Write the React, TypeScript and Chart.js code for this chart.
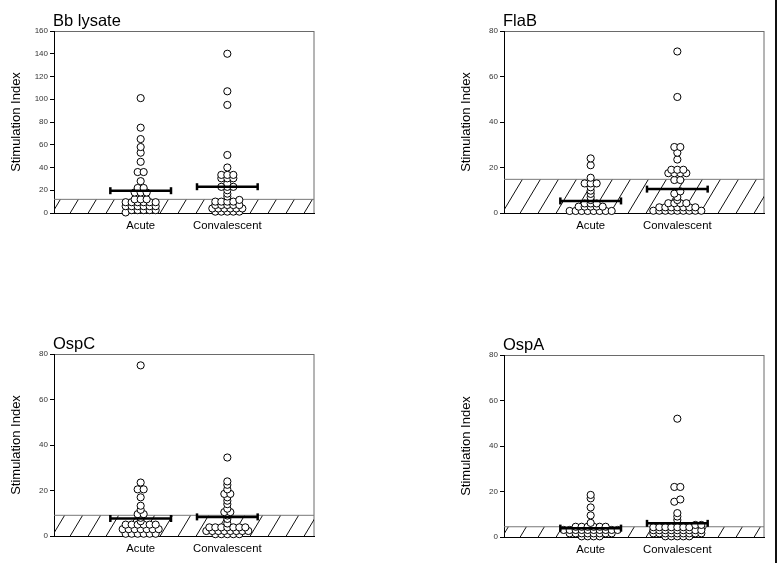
import React, { useEffect, useRef } from "react";
import { Chart, registerables } from "chart.js";

Chart.register(...registerables);

// ---------- data ----------
const categories = ["Acute", "Convalescent"];
const panelTitles = ["Bb lysate", "FlaB", "OspC", "OspA"];
const yMaxes = [160, 80, 80, 80];
const yStepSizes = [20, 20, 20, 20];
const cutoffs = [12, 14.8, 9.1, 4.5];
const acuteMeans = [19.6, 5.3, 7.7, 3.9];
const convMeans = [23.1, 10.5, 8.4, 6.0];

const bbAcute = [101, 75, 65, 58, 53, 45, 36, 36, 28, 22, 22, 18, 18, 18, 12, 12, 12,
  9.5, 9.5, 9.5, 9.5, 9.5, 9.5, 6, 6, 6, 6, 6, 6, 2.5, 2.5, 2.5, 2.5, 2.5, 0.5];
const bbConv = [140, 107, 95, 51, 40, 33.5, 33.5, 33.5, 30.5, 30.5, 30.5, 26, 23, 23, 23, 20, 17,
  14.5, 11.5, 10, 10, 10, 10, 7, 7, 7, 7, 7, 4, 4, 4, 4, 4, 4, 1.2, 1.2, 1.2, 1.2, 1.2];

const flabAcute = [24, 21, 15.5, 13, 13, 13, 11.3, 9.8, 8.4, 6.9, 5.7, 4.2, 4.2, 4.2,
  2.8, 2.8, 2.8, 2.8, 2.8, 0.9, 0.9, 0.9, 0.9, 0.9, 0.9, 0.9, 0.9];
const flabConv = [71, 51, 29, 29, 26.5, 23.5, 19, 19, 19, 17.5, 17.5, 17.5, 17.5, 14.5, 14.5,
  9.5, 8.5, 7, 5.7, 4.3, 4.3, 4.3, 4.3, 2.5, 2.5, 2.5, 2.5, 2.5, 2.5, 2.5,
  1, 1, 1, 1, 1, 1, 1, 1, 1];

const ospcAcute = [75, 23.5, 20.5, 20.5, 17, 13.3, 11.5, 9.6, 9.6, 8, 6.5, 5, 5, 5, 5, 5, 5,
  3, 3, 3, 3, 3, 3, 3, 1, 1, 1, 1, 1, 1];
const ospcConv = [34.5, 24, 22.5, 20.5, 18.5, 18.5, 17, 15.5, 14, 12, 10.5, 10.5, 9, 7.5, 5.5,
  3.8, 3.8, 3.8, 3.8, 3.8, 3.8, 3.8, 2.2, 2.2, 2.2, 2.2, 2.2, 2.2, 2.2, 2.2,
  0.8, 0.8, 0.8, 0.8, 0.8];

const ospaAcute = [18.5, 17, 13, 9.5, 6.2, 4.5, 4.5, 4.5, 4.5, 4.5, 4.5,
  3.1, 3.1, 3.1, 3.1, 3.1, 3.1, 3.1, 3.1, 3.1, 3.1, 1.6, 1.6, 1.6, 1.6, 1.6, 1.6, 1.6, 1.6,
  0.3, 0.3, 0.3, 0.3];
const ospaConv = [52, 22, 22, 16.5, 15.5, 10.5, 9, 7.5, 5.3, 5.3, 4.3, 4.3, 4.3, 4.3, 4.3, 4.3, 4.3,
  3, 3, 3, 3, 3, 3, 3, 3, 3, 1.6, 1.6, 1.6, 1.6, 1.6, 1.6, 1.6, 1.6, 1.6,
  0.3, 0.3, 0.3, 0.3, 0.3];

const acuteSeries = [bbAcute, flabAcute, ospcAcute, ospaAcute];
const convSeries = [bbConv, flabConv, ospcConv, ospaConv];

// ---------- layout / style ----------
const FONT = '"Liberation Sans", Arial, Helvetica, sans-serif';
const CANVAS_W = 327;
const CANVAS_H = 239;
const PLOT_W = 260;
const PLOT_H = 182;
const X_MAX = 3;
const DOT_SPACING = 6; // px between dots in one row
const ROW_TOL = 2.5; // px: values closer than this share a row
const MEAN_HALF = 0.35;
const panelPos = [
  { left: 0, top: 0 },
  { left: 450, top: 0 },
  { left: 0, top: 323 },
  { left: 450, top: 324 },
];

function swarm(values: number[], center: number, yMax: number) {
  const pxX = PLOT_W / X_MAX;
  const pxY = PLOT_H / yMax;
  const sorted = [...values].sort((a, b) => a - b);
  const rows: number[][] = [];
  let start = -Infinity;
  for (const v of sorted) {
    const py = v * pxY;
    if (rows.length && py - start < ROW_TOL) rows[rows.length - 1].push(v);
    else {
      rows.push([v]);
      start = py;
    }
  }
  const pts: { x: number; y: number }[] = [];
  for (const row of rows) {
    const n = row.length;
    row.forEach((v, i) => {
      pts.push({ x: center + ((i - (n - 1) / 2) * DOT_SPACING) / pxX, y: v });
    });
  }
  return pts;
}

function makeHatch(ctx: CanvasRenderingContext2D) {
  const w = 18;
  const h = 30;
  const c = document.createElement("canvas");
  c.width = w;
  c.height = h;
  const g = c.getContext("2d")!;
  g.strokeStyle = "#111";
  g.lineWidth = 1;
  for (const dx of [-w, 0, w]) {
    g.beginPath();
    g.moveTo(-w + dx, 2 * h);
    g.lineTo(2 * w + dx, -h);
    g.stroke();
  }
  return ctx.createPattern(c, "repeat");
}

function Panel({ idx }: { idx: number }) {
  const ref = useRef<HTMLCanvasElement>(null);
  useEffect(() => {
    const canvas = ref.current!;
    const ctx = canvas.getContext("2d")!;
    const pattern = makeHatch(ctx);
    const yMax = yMaxes[idx];

    const framePlugin = {
      id: "panelFrame",
      beforeDraw(chart: any) {
        const { ctx: c, chartArea: a } = chart;
        c.save();
        c.strokeStyle = "#6a6a6a";
        c.lineWidth = 1;
        c.strokeRect(a.left + 0.5, a.top + 0.5, a.right - a.left - 0.5, a.bottom - a.top);
        c.restore();
      },
      afterDraw(chart: any) {
        const { ctx: c, chartArea: a } = chart;
        c.save();
        c.fillStyle = "#000";
        c.font = `16.5px ${FONT}`;
        c.textAlign = "left";
        c.textBaseline = "alphabetic";
        c.fillText(panelTitles[idx], a.left - 1, a.top - 5);
        c.restore();
      },
    };

    const meanDs = (center: number, m: number) => ({
      type: "line" as const,
      data: [
        { x: center - MEAN_HALF, y: m },
        { x: center + MEAN_HALF, y: m },
      ],
      borderColor: "#000",
      borderWidth: 2.5,
      pointStyle: "line" as const,
      pointRotation: 90,
      pointRadius: 3.5,
      pointBorderWidth: 2.5,
      pointBorderColor: "#000",
      order: 0,
      clip: false as any,
    });

    const dotDs = (vals: number[], center: number) => ({
      type: "scatter" as const,
      data: swarm(vals, center, yMax),
      pointRadius: 3.6,
      backgroundColor: "#fff",
      borderColor: "#000",
      borderWidth: 1,
      pointBackgroundColor: "#fff",
      pointBorderColor: "#000",
      pointBorderWidth: 1,
      order: 2,
      clip: false as any,
    });

    const chart = new Chart(canvas, {
      type: "scatter",
      data: {
        datasets: [
          {
            type: "line",
            data: [
              { x: 0, y: cutoffs[idx] },
              { x: X_MAX, y: cutoffs[idx] },
            ],
            borderColor: "#777",
            borderWidth: 1,
            pointRadius: 0,
            fill: "origin",
            backgroundColor: pattern as any,
            order: 5,
          },
          dotDs(acuteSeries[idx], 1),
          dotDs(convSeries[idx], 2),
          meanDs(1, acuteMeans[idx]),
          meanDs(2, convMeans[idx]),
        ] as any,
      },
      options: {
        responsive: false,
        animation: false,
        devicePixelRatio: 1,
        layout: { padding: { top: 31, right: 13, bottom: 0, left: 0 } },
        plugins: {
          legend: { display: false },
          tooltip: { enabled: false },
          title: { display: false },
        },
        scales: {
          x: {
            type: "linear",
            min: 0,
            max: X_MAX,
            afterBuildTicks: (s: any) => {
              s.ticks = [{ value: 1 }, { value: 2 }];
            },
            afterFit: (s: any) => {
              s.height = CANVAS_H - 31 - PLOT_H;
            },
            ticks: {
              callback: (v: any) => categories[Math.round(Number(v)) - 1] ?? "",
              font: { family: FONT, size: 11.3 },
              color: "#000",
              padding: 6,
              autoSkip: false,
              maxRotation: 0,
            },
            grid: { display: false, drawTicks: false, tickLength: 0 },
            border: { color: "#000", width: 1 },
          },
          y: {
            min: 0,
            max: yMax,
            afterFit: (s: any) => {
              s.width = 54;
            },
            ticks: {
              stepSize: yStepSizes[idx],
              font: { family: FONT, size: 8 },
              color: "#333",
              padding: 2,
            },
            grid: { drawOnChartArea: false, drawTicks: true, tickLength: 4, color: "#000" },
            border: { color: "#000", width: 1 },
            title: {
              display: true,
              text: "Stimulation Index",
              font: { family: FONT, size: 13 },
              color: "#000",
              padding: { top: 9, bottom: 0 },
            },
          },
        },
      } as any,
      plugins: [framePlugin],
    });
    return () => chart.destroy();
  }, [idx]);

  const pos = panelPos[idx];
  return (
    <canvas
      ref={ref}
      width={CANVAS_W}
      height={CANVAS_H}
      style={{ position: "absolute", left: pos.left, top: pos.top, width: CANVAS_W, height: CANVAS_H }}
    />
  );
}

export default function App() {
  return (
    <div
      style={{
        position: "fixed",
        left: 0,
        top: 0,
        width: 777,
        height: 563,
        background: "#fff",
        overflow: "hidden",
      }}
    >
      {[0, 1, 2, 3].map((i) => (
        <Panel key={i} idx={i} />
      ))}
      <div style={{ position: "absolute", left: 775, top: 0, width: 2, height: 563, background: "#111" }} />
    </div>
  );
}
